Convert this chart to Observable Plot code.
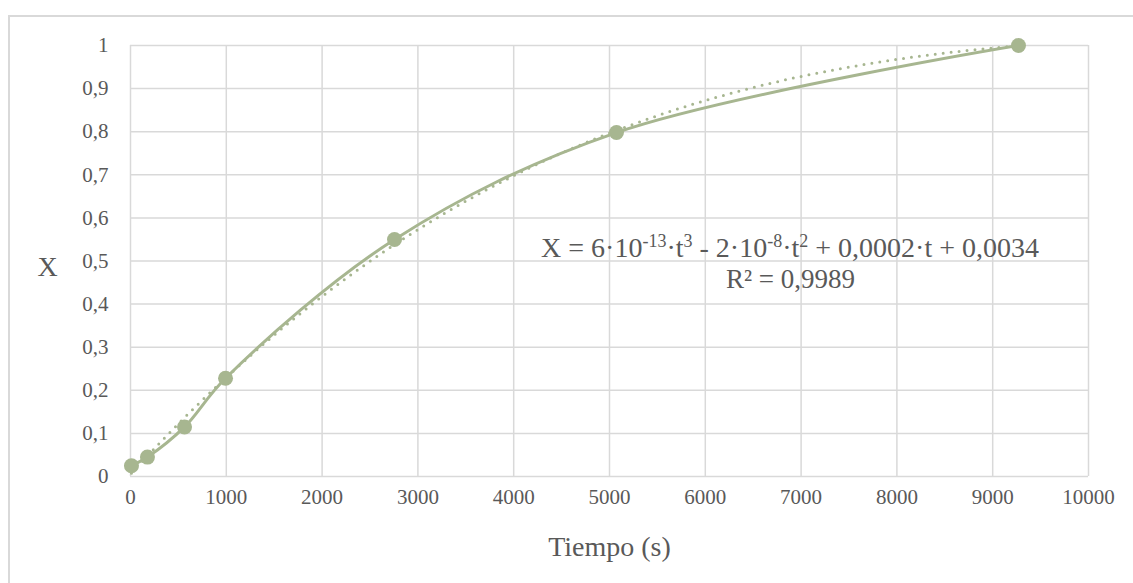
<!DOCTYPE html>
<html><head><meta charset="utf-8">
<script src="https://cdn.jsdelivr.net/npm/d3@7"></script>
<script src="https://cdn.jsdelivr.net/npm/@observablehq/plot@0.6"></script>
<style>
body{margin:0;background:#fff;overflow:hidden;}
#frame{position:absolute;left:8px;top:15px;width:1300px;height:800px;border-top:2px solid #d9d9d9;border-left:2px solid #d9d9d9;}
#chart{position:absolute;left:0;top:0;}
</style></head><body><div id="frame"></div><div id="chart"></div>
<script>
// Data
const tiempo = [10, 177, 564, 992, 2756, 5073, 9269];
const conversion = [0.025, 0.045, 0.115, 0.228, 0.55, 0.798, 1.0];
const xTicks = [0, 1000, 2000, 3000, 4000, 5000, 6000, 7000, 8000, 9000, 10000];
const yTicks = [0, 0.1, 0.2, 0.3, 0.4, 0.5, 0.6, 0.7, 0.8, 0.9, 1];
const xLabel = "Tiempo (s)";
const yLabel = "X";
const eqParts = [["X = 6·10",""],["-13","sup"],["·t",""],["3","sup"],[" - 2·10",""],["-8","sup"],["·t",""],["2","sup"],[" + 0,0002·t + 0,0034",""]];
const r2Text = "R² = 0,9989";
const color = "#a7b690";

const data = tiempo.map((t, i) => ({t, X: conversion[i]}));

// Cubic least-squares trendline (as Excel computes it) from the data
function cubicFit(xs, ys) {
  const s = xs.map(x => x / 10000);
  const n = 4;
  const A = Array.from({length: n}, () => Array(n + 1).fill(0));
  s.forEach((si, k) => {
    for (let i = 0; i < n; i++) {
      for (let j = 0; j < n; j++) A[i][j] += Math.pow(si, i + j);
      A[i][n] += ys[k] * Math.pow(si, i);
    }
  });
  for (let c = 0; c < n; c++) {
    let p = c;
    for (let r = c + 1; r < n; r++) if (Math.abs(A[r][c]) > Math.abs(A[p][c])) p = r;
    [A[c], A[p]] = [A[p], A[c]];
    for (let r = 0; r < n; r++) if (r !== c) {
      const f = A[r][c] / A[c][c];
      for (let k = c; k <= n; k++) A[r][k] -= f * A[c][k];
    }
  }
  const coef = A.map((row, i) => row[n] / row[i]);
  return x => { const v = x / 10000; return coef[0] + coef[1]*v + coef[2]*v*v + coef[3]*v*v*v; };
}
const fit = cubicFit(tiempo, conversion);
const tMin = d3.min(tiempo), tMax = d3.max(tiempo);
const trend = d3.range(0, 201).map(i => { const t = tMin + (tMax - tMin) * i / 200; return {t, X: fit(t)}; });

const grid = "#d9d9d9";
const font = "'Liberation Serif', 'Times New Roman', serif";
const plot = Plot.plot({
  width: 1133, height: 583,
  marginLeft: 130, marginRight: 45, marginTop: 45, marginBottom: 107,
  style: {fontFamily: font, fontSize: "21px", color: "#595959", background: "transparent"},
  x: {domain: [0, 10000], ticks: xTicks, label: null},
  y: {domain: [0, 1], ticks: yTicks, label: null},
  marks: [
    Plot.gridX(xTicks, {stroke: grid, strokeOpacity: 1, strokeWidth: 1.5}),
    Plot.gridY(yTicks, {stroke: grid, strokeOpacity: 1, strokeWidth: 1.5}),
    Plot.axisX(xTicks, {tickSize: 0, tickPadding: 13, tickFormat: d => String(d), fill: "#595959"}),
    Plot.axisY(yTicks, {tickSize: 0, tickPadding: 22, tickFormat: d => String(+d.toFixed(1)).replace(".", ","), fill: "#595959"}),
    Plot.line(trend, {x: "t", y: "X", stroke: color, strokeWidth: 3, strokeDasharray: "0,8", strokeLinecap: "round"}),
    Plot.line(data, {x: "t", y: "X", stroke: color, strokeWidth: 3, curve: "catmull-rom"}),
    Plot.dot(data, {x: "t", y: "X", r: 7.5, fill: color}),
    Plot.text([yLabel], {text: d => d, frameAnchor: "left", dx: -93, dy: 6, fontSize: 28, fill: "#595959"}),
    Plot.text([xLabel], {text: d => d, frameAnchor: "bottom", dy: 79, fontSize: 28, fill: "#595959"}),
    Plot.text([r2Text], {text: d => d, x: () => 6890, y: () => 0.458, fontSize: 27, fill: "#595959"})
  ]
});
document.getElementById("chart").appendChild(plot);

// Equation annotation with real superscripts
const sx = plot.scale("x"), sy = plot.scale("y");
const eq = d3.select(plot).append("text")
  .attr("x", sx.apply(6890)).attr("y", sy.apply(0.532))
  .attr("text-anchor", "middle").attr("dy", "0.35em")
  .attr("font-size", 28).attr("fill", "#595959")
  .attr("font-family", font);
eqParts.forEach(([txt, kind]) => {
  const ts = eq.append("tspan").text(txt);
  if (kind === "sup") ts.attr("font-size", 18).attr("baseline-shift", "super");
});
</script></body></html>
